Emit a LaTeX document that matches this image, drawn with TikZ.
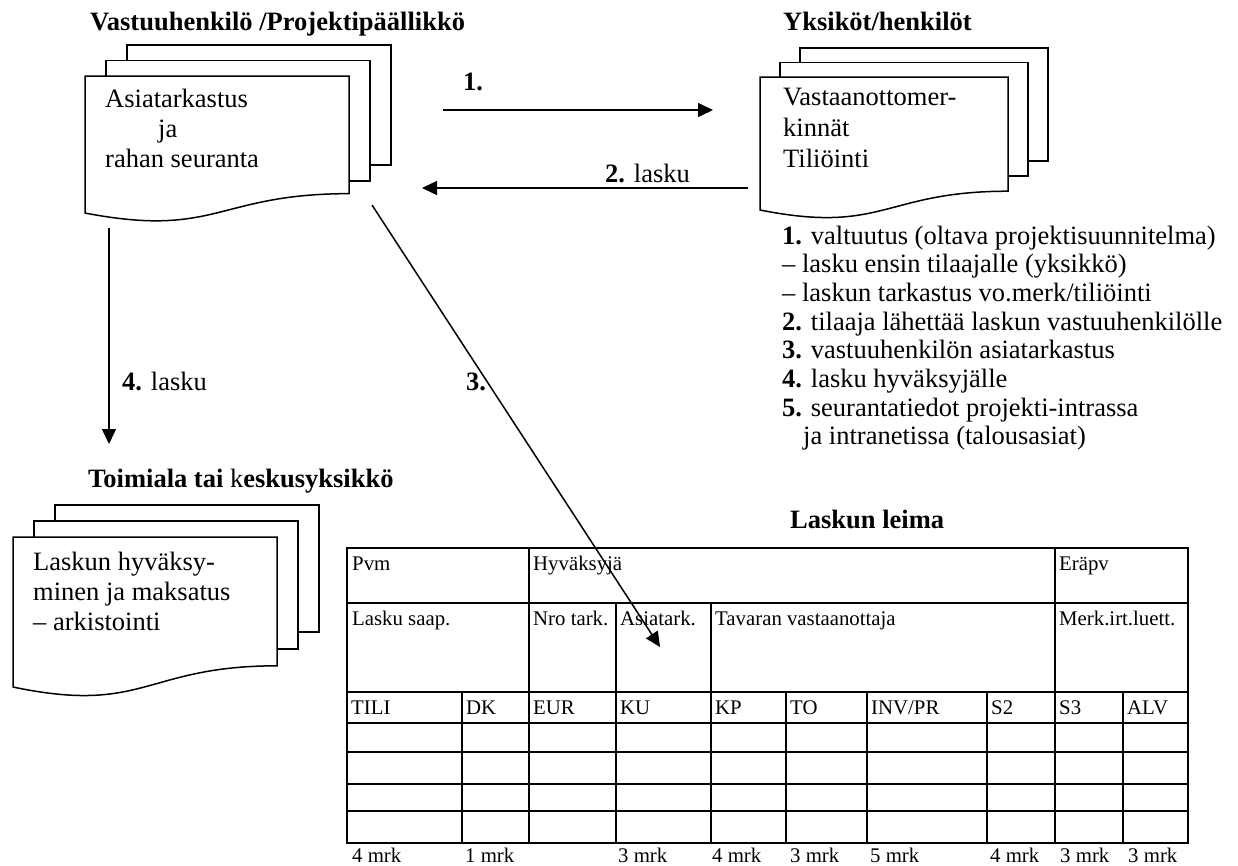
\documentclass[tikz,border=0pt]{standalone}
\usepackage{fontspec}
\setmainfont{Liberation Serif}
\usetikzlibrary{arrows.meta}

% stack of three pages: #1 left, #2 top, #3 width, #4 height of the front page,
% #5 page offset x, #6 page offset y, #7 bottom of middle page, #8 bottom of back page
\newcommand{\pagestack}[8]{%
  \draw[docline] (#1+2*#5,#2-2*#6) rectangle (#1+#3+2*#5,#8);
  \draw[docline] (#1+#5,#2-#6) rectangle (#1+#3+#5,#7);
  \draw[docline] (#1,#2) -- (#1+#3,#2) -- (#1+#3,#2+0.802*#4)
     .. controls (#1+0.5*#3,#2+0.802*#4) and (#1+0.5*#3,#2+1.107*#4) .. (#1,#2+0.934*#4) -- cycle;
}

\begin{document}
\begin{tikzpicture}[x=1pt,y=-1pt,
  docline/.style={draw=black,line width=1.5pt,fill=white,line join=miter},
  flow/.style={line width=1.5pt,-{Triangle[length=15pt,width=14pt]}},
  gridline/.style={line width=1.6pt},
  txt/.style={inner sep=0pt,anchor=base west,font=\fontsize{26.5}{30}\selectfont},
  cell/.style={inner sep=0pt,anchor=base west,font=\fontsize{20.8}{24}\selectfont},
]
\useasboundingbox[fill=white] (0,0) rectangle (1238,865);

% ---- headings
\node[txt] (hd1) at (90,30) {\textbf{Vastuuhenkilö /Projektipäällikkö}};
\node[txt] (hd2) at (783,30) {\textbf{Yksiköt/henkilöt}};
\node[txt] (hd3) at (88,487) {\textbf{Toimiala tai }k\textbf{eskusyksikkö}};
\node[txt] (hd4) at (790,528) {\textbf{Laskun leima}};

% ---- page stacks
\pagestack{85}{76}{264}{146.7}{21}{15.5}{181}{165}
\node[txt] (d1a) at (105,107) {Asiatarkastus};
\node[txt] (d1b) at (158,137) {ja};
\node[txt] (d1c) at (105,167) {rahan seuranta};

\pagestack{760}{77}{248}{142.4}{20}{14.5}{176}{161}
\node[txt] (d2a) at (783,105) {Vastaanottomer-};
\node[txt] (d2b) at (783,136) {kinnät};
\node[txt] (d2c) at (783,167) {Tiliöinti};

\pagestack{13}{537}{264}{160.6}{21}{16}{649}{632}
\node[txt] (d3a) at (33,570) {Laskun hyväksy-};
\node[txt] (d3b) at (33,600) {minen ja maksatus};
\node[txt] (d3c) at (33,630) {– arkistointi};

% ---- notes
\node[txt] (n1) at (782,244.0) {\textbf{1.} valtuutus (oltava projektisuunnitelma)};
\node[txt] (n2) at (782,272.7) {– lasku ensin tilaajalle (yksikkö)};
\node[txt] (n3) at (782,301.4) {– laskun tarkastus vo.merk/tiliöinti};
\node[txt] (n4) at (782,330.1) {\textbf{2.} tilaaja lähettää laskun vastuuhenkilölle};
\node[txt] (n5) at (782,358.8) {\textbf{3.} vastuuhenkilön asiatarkastus};
\node[txt] (n6) at (782,387.5) {\textbf{4.} lasku hyväksyjälle};
\node[txt] (n7) at (782,416.2) {\textbf{5.} seurantatiedot projekti-intrassa};
\node[txt] (n8) at (803,444.9) {ja intranetissa (talousasiat)};

% ---- stamp table
\def\Xa{347}\def\Xb{462}\def\Xc{529}\def\Xd{616}\def\Xe{711}\def\Xf{786}
\def\Xg{867}\def\Xh{987}\def\Xi{1055}\def\Xj{1123}\def\Xk{1188}
\def\Ra{548}\def\Rb{603}\def\Rc{692}\def\Rd{723}\def\Re{752}\def\Rf{784}\def\Rg{811}\def\Rh{843}
\draw[gridline] (\Xa,\Ra) rectangle (\Xk,\Rh);
\foreach \r in {\Rb,\Rc,\Rd,\Re,\Rf,\Rg} \draw[gridline] (\Xa,\r) -- (\Xk,\r);
\foreach \c in {\Xc,\Xi} \draw[gridline] (\c,\Ra) -- (\c,\Rb);
\foreach \c in {\Xc,\Xd,\Xe,\Xi} \draw[gridline] (\c,\Rb) -- (\c,\Rc);
\foreach \c in {\Xb,\Xc,\Xd,\Xe,\Xf,\Xg,\Xh,\Xi,\Xj} \draw[gridline] (\c,\Rc) -- (\c,\Rh);

\node[cell] (t1) at (\Xa+5,\Ra+22) {Pvm};
\node[cell] (t2) at (\Xc+4,\Ra+22) {Hyväksyjä};
\node[cell] (t3) at (\Xi+4,\Ra+22) {Eräpv};
\node[cell] (t4) at (\Xa+5,\Rb+22) {Lasku saap.};
\node[cell] (t5) at (\Xc+4,\Rb+22) {Nro tark.};
\node[cell] (t6) at (\Xd+4,\Rb+22) {Asiatark.};
\node[cell] (t7) at (\Xe+4,\Rb+22) {Tavaran vastaanottaja};
\node[cell] (t8) at (\Xi+4,\Rb+22) {Merk.irt.luett.};
\foreach \c/\t [count=\k] in {\Xa/TILI,\Xb/DK,\Xc/EUR,\Xd/KU,\Xe/KP,\Xf/TO,\Xg/INV\slash PR,\Xh/S2,\Xi/S3,\Xj/ALV}
  \node[cell] (c\k) at (\c+4,\Rc+22) {\t};
\foreach \x/\t [count=\k] in {352/4,465/1,618/3,712/4,790/3,870/5,990/4,1060/3,1128/3}
  \node[cell] (m\k) at (\x,862) {\t\ mrk};

% ---- connectors
\coordinate (a1s) at (443,110);  \coordinate (a1e) at (713,110);
\coordinate (a2s) at (748,188);  \coordinate (a2e) at (422,188);
\coordinate (a4s) at (109,228);  \coordinate (a4e) at (109,444);
\coordinate (a3s) at (372,205);  \coordinate (a3e) at (660,647);
\draw[flow] (a1s) -- (a1e);
\draw[flow] (a2s) -- (a2e);
\draw[flow] (a4s) -- (a4e);
\draw[flow] (a3s) -- (a3e);

\node[txt] (l1) at (463,90) {\textbf{1.}};
\node[txt] (l2) at (605,182) {\textbf{2.} lasku};
\node[txt] (l4) at (122,390) {\textbf{4.} lasku};
\node[txt] (l3) at (466,390) {\textbf{3.}};
\end{tikzpicture}
\end{document}
